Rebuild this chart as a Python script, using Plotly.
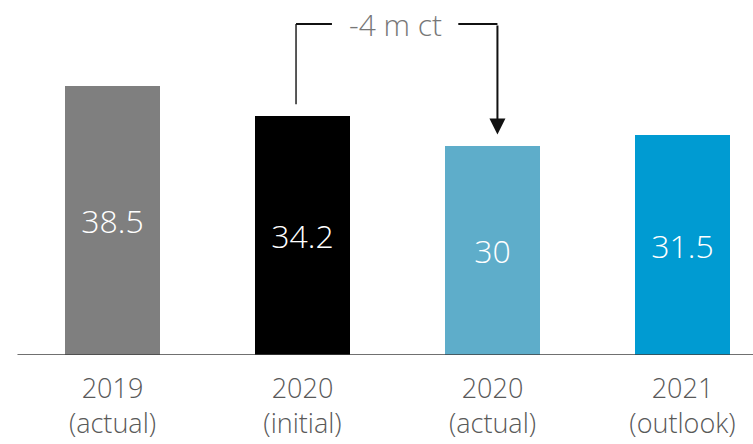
import plotly.graph_objects as go

categories = ["2019<br>(actual)", "2020<br>(initial)", "2020<br>(actual)", "2021<br>(outlook)"]
values = [38.5, 34.2, 30, 31.5]
labels = ["38.5", "34.2", "30", "31.5"]
colors = ["#7f7f7f", "#000000", "#5eadca", "#009bd2"]
delta_label = "-4 m ct"

FONT = "Open Sans"
x = list(range(len(values)))

fig = go.Figure()
fig.add_trace(go.Bar(
    x=x, y=values, width=0.5,
    marker=dict(color=colors, line=dict(width=0)),
    text=labels, textposition="inside", insidetextanchor="middle",
    textfont=dict(color="white", size=32, family=FONT, weight=300),
    textangle=0, cliponaxis=False, hoverinfo="skip",
))

# baseline
fig.add_shape(type="line", x0=-0.5, x1=3.5, y0=0, y1=0, xref="x", yref="y",
              line=dict(color="#404040", width=1.5))

# bracket
yb = 47.4
fig.add_shape(type="line", x0=0.966, x1=0.966, y0=35.9, y1=yb, line=dict(color="#222", width=1.5))
fig.add_shape(type="line", x0=0.966, x1=1.155, y0=yb, y1=yb, line=dict(color="#111", width=2))
fig.add_shape(type="line", x0=1.82, x1=2.026, y0=yb, y1=yb, line=dict(color="#111", width=2))
fig.add_annotation(x=2.026, y=31.6, ax=2.026, ay=yb, xref="x", yref="y", axref="x", ayref="y",
                   showarrow=True, arrowhead=2, arrowsize=1.6, arrowwidth=2, arrowcolor="#111",
                   text="", standoff=0, startstandoff=0)
fig.add_annotation(x=1.49, y=yb, xref="x", yref="y", text=delta_label, showarrow=False,
                   font=dict(size=30, color="#777777", family=FONT, weight=300), yanchor="middle")

fig.update_layout(
    width=753, height=444,
    margin=dict(l=0, r=0, t=0, b=89),
    plot_bgcolor="white", paper_bgcolor="white",
    showlegend=False,
    bargap=0,
    xaxis=dict(range=[-0.592, 3.371], tickmode="array", tickvals=x, ticktext=categories,
               showgrid=False, zeroline=False, showline=False, ticks="",
               ticklabelstandoff=15,
               tickfont=dict(size=27, color="#595959", family=FONT, weight=300)),
    yaxis=dict(range=[0, 50.85], visible=False, showgrid=False, zeroline=False),
)

fig.write_html("out.html", config={"displayModeBar": False},
               post_script="document.body.style.margin='0';")
